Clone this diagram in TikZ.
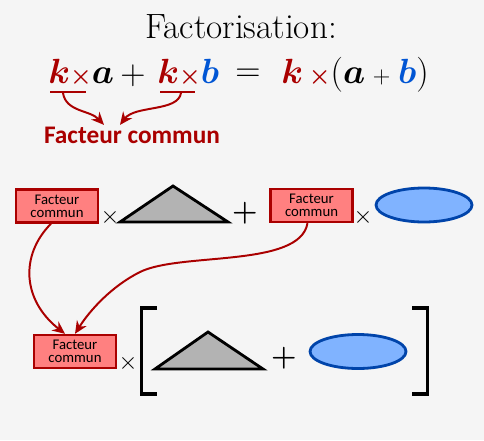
\documentclass[tikz,border=0pt]{standalone}
\usepackage{fontspec}
\usepackage{amsmath}
\usetikzlibrary{arrows.meta}
\newfontfamily\carlito{Carlito}
\definecolor{darkred}{HTML}{AA0000}
\definecolor{darkblue}{HTML}{0044AA}
\definecolor{letterblue}{HTML}{0055D4}
\definecolor{boxred}{HTML}{FF8080}
\definecolor{shapeblue}{HTML}{80B3FF}
\definecolor{shapegray}{HTML}{B3B3B3}
\definecolor{bgcolor}{HTML}{F5F5F5}
\newcommand{\bk}{\textcolor{darkred}{\boldsymbol{k}}}
\newcommand{\bx}{\textcolor{darkred}{\scriptstyle\boldsymbol{\times}}}
\tikzset{
  factorbox/.style={draw=darkred, fill=boxred, line width=1.8pt, minimum width=2.05cm,
    minimum height=0.82cm, inner sep=0pt, align=center,
    font=\carlito\fontsize{10.5}{9}\selectfont},
  timessign/.style={inner sep=0pt, font=\fontsize{19}{19}\selectfont},
  plussign/.style={inner sep=0pt, font=\fontsize{22}{22}\selectfont},
  eqsign/.style={inner sep=0pt, font=\fontsize{23}{23}\selectfont},
  eqterm/.style={inner sep=0pt, anchor=base west, font=\fontsize{26}{30}\selectfont},
  link/.style={darkred, line width=1.4pt, -{Stealth[length=9pt,width=8pt]}},
  tri/.style={draw=black, fill=shapegray, line width=2pt, line join=miter},
  oval/.style={draw=darkblue, fill=shapeblue, line width=2pt},
  bracket/.style={line width=2.4pt, line join=miter}
}
\begin{document}
\begin{tikzpicture}[x=0.025cm, y=-0.025cm]
    % Background
    \fill[bgcolor] (0, 0) rectangle (484, 440);
    \useasboundingbox (0, 0) rectangle (484, 440);

    % Title
    \node[anchor=base, inner sep=0pt, font=\fontsize{25}{30}\selectfont] (title) at (241, 39) {Factorisation:};

    % Equation
    \node[eqterm] (ka) at (48, 83) {$\bk\bx\boldsymbol{a}$};
    \node[eqterm] (kb) at (157, 83) {$\bk\bx\textcolor{letterblue}{\boldsymbol{b}}$};
    \node[eqterm] (kab) at (281, 83) {$\bk\,\bx(\boldsymbol{a}\mathbin{\scriptstyle+}\textcolor{letterblue}{\boldsymbol{b}})$};
    \node[eqsign] (eqplus) at (133, 76) {$+$};
    \node[eqsign] (eqsign) at (248, 75) {$=$};

    % Underlines and common factor
    \draw[darkred, line width=1.6pt] (50, 92) -- (86, 92);
    \draw[darkred, line width=1.6pt] (160, 92) -- (195, 92);
    \coordinate (u1) at (63, 93);
    \coordinate (u2) at (181, 93);
    \node[anchor=base, inner sep=1pt, darkred, font=\carlito\bfseries\fontsize{18}{20}\selectfont] (common) at (132, 143) {Facteur commun};
    \draw[link] (u1) .. controls (66, 112) and (90, 110) .. ([xshift=-0.7cm]common.north);
    \draw[link] (u2) .. controls (178, 112) and (135, 105) .. ([xshift=-0.3cm]common.north);

    % First row
    \node[factorbox] (box1) at (57, 206) {Facteur\\commun};
    \node[timessign] (t1) at (110, 217) {$\times$};
    \draw[tri] (120, 222) -- (173, 186) -- (228, 222) -- cycle;
    \node[plussign] (p1) at (245, 213) {$\boldsymbol{+}$};
    \node[factorbox] (box2) at (311.5, 205.5) {Facteur\\commun};
    \node[timessign] (t2) at (363, 217) {$\times$};
    \draw[oval] (424, 205) ellipse (48 and 17);

    % Second row
    \node[factorbox] (box3) at (75, 351.5) {Facteur\\commun};
    \node[timessign] (t3) at (128, 363) {$\times$};
    \draw[bracket] (157, 308) -- (141.5, 308) -- (141.5, 394) -- (157, 394);
    \draw[tri] (155, 369) -- (208, 332) -- (263, 369) -- cycle;
    \node[plussign] (p2) at (284, 358) {$\boldsymbol{+}$};
    \draw[oval] (358, 351.5) ellipse (48 and 17);
    \draw[bracket] (412, 308) -- (427.5, 308) -- (427.5, 394) -- (412, 394);

    % Links to the common factor
    \draw[link] ([xshift=-0.15cm]box1.south) .. controls (20, 255) and (22, 300) .. ([xshift=-0.25cm]box3.north);
    \draw[link] ([xshift=-0.1cm]box2.south) .. controls (300, 268) and (180, 252) .. (140, 272)
        .. controls (112, 286) and (90, 310) .. (box3.north);
\end{tikzpicture}
\end{document}
